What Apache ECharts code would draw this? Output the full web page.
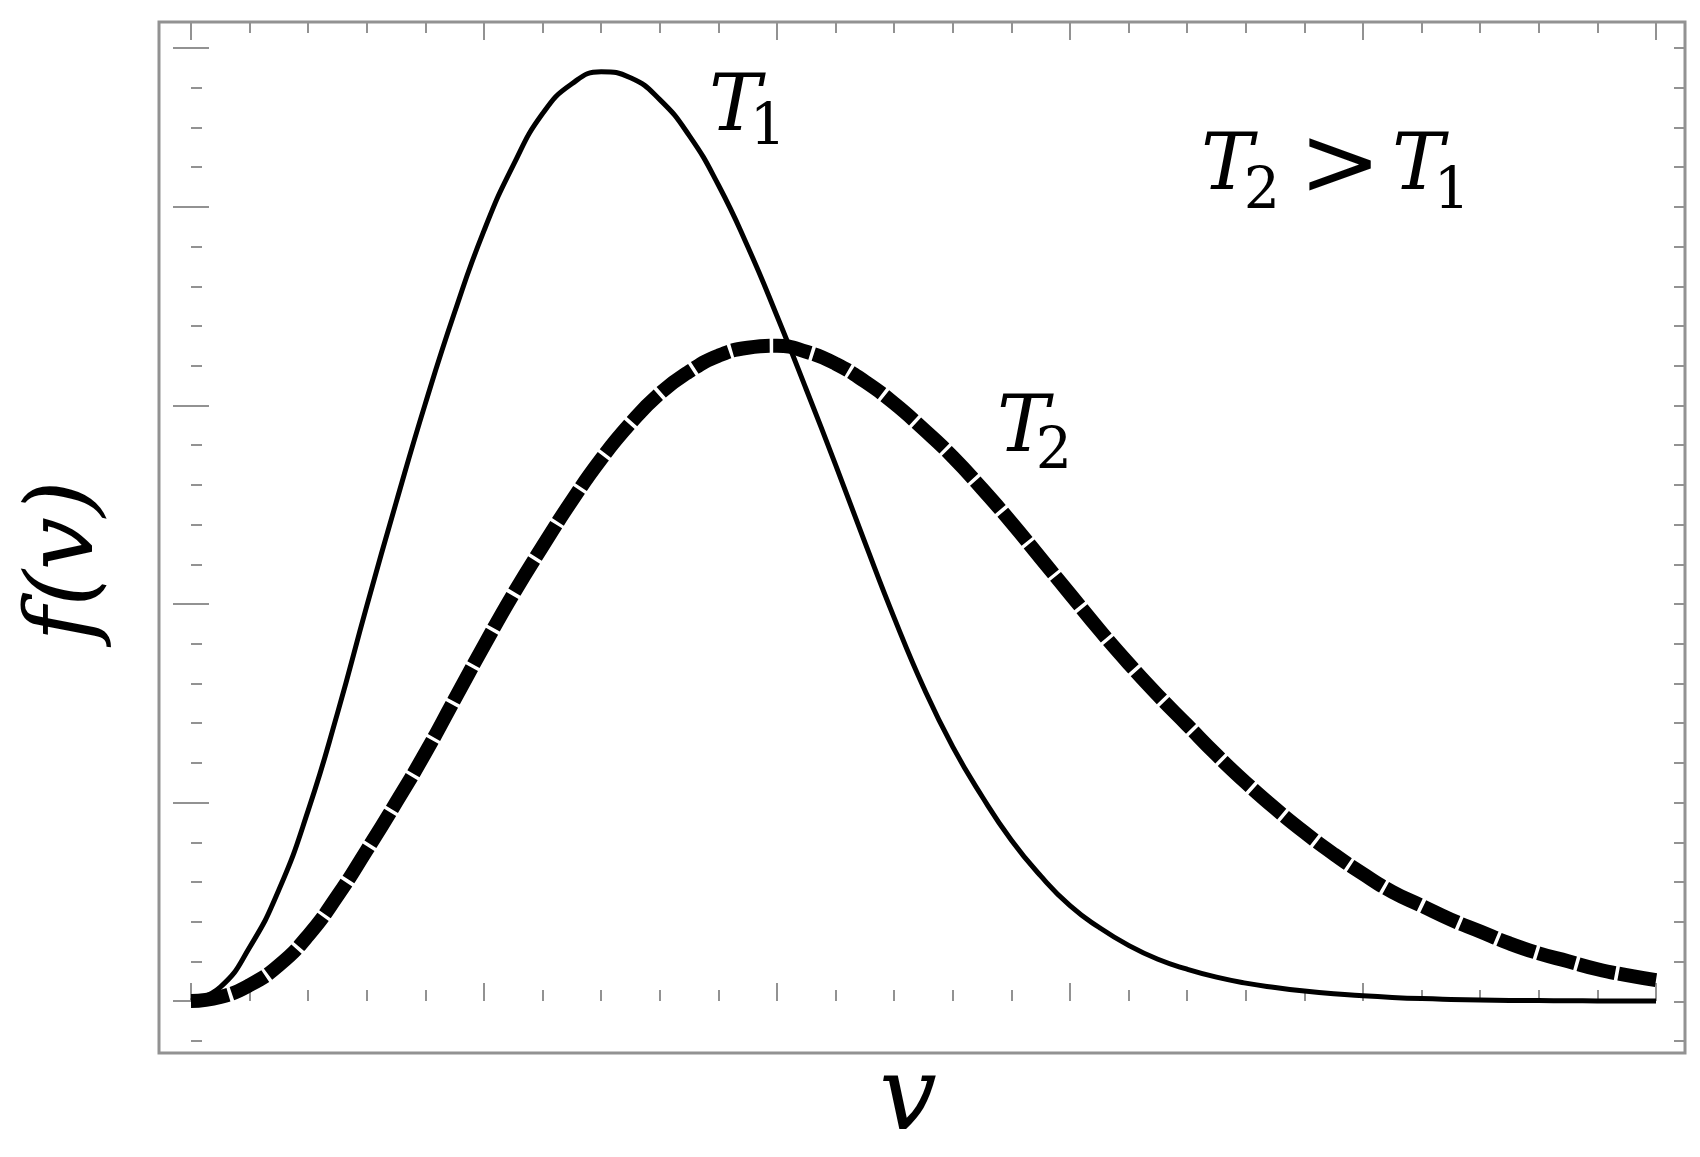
<!DOCTYPE html>
<html><head><meta charset="utf-8">
<script src="https://cdn.jsdelivr.net/npm/echarts@6/dist/echarts.min.js"></script>
<style>html,body{margin:0;padding:0;background:#fff}#c{width:1700px;height:1157px}</style>
</head><body><div id="c"></div>
<script>
// speed v (arbitrary units, major tick = 1)
const speeds = [0.0,0.1,0.2,0.3,0.4,0.5,0.6,0.7,0.8,0.9,1.0,1.1,1.2,1.3,1.4,1.5,1.6,1.7,1.8,1.9,2.0,2.1,2.2,2.3,2.4,2.5,2.6,2.7,2.8,2.9,3.0,3.1,3.2,3.3,3.4,3.5,3.6,3.7,3.8,3.9,4.0,4.1,4.2,4.3,4.4,4.5,4.6,4.7,4.8,4.9,5.0];
// f(v) at T1 (solid)
const fT1 = [0,0.07,0.27,0.56,0.96,1.45,1.99,2.51,3.01,3.47,3.88,4.21,4.47,4.62,4.68,4.65,4.54,4.36,4.11,3.80,3.45,3.08,2.70,2.31,1.93,1.58,1.28,1.03,0.81,0.63,0.48,0.37,0.28,0.21,0.16,0.12,0.09,0.068,0.05,0.036,0.026,0.018,0.012,0.008,0.005,0.003,0.002,0.001,0.0005,0,0];
// f(v) at T2 (dashed)
const fT2 = [0,0.02,0.08,0.18,0.33,0.53,0.76,1.00,1.25,1.52,1.79,2.05,2.29,2.52,2.73,2.91,3.06,3.17,3.25,3.29,3.30,3.27,3.21,3.12,3.01,2.88,2.74,2.58,2.41,2.23,2.05,1.87,1.70,1.54,1.39,1.24,1.10,0.97,0.85,0.74,0.64,0.55,0.48,0.41,0.35,0.29,0.24,0.20,0.16,0.13,0.105];

const pairs = (ys) => speeds.map((x, i) => [x, ys[i]]);
const tickColor = '#929292';
const FONT = '"DejaVu Serif", serif';

function tickAxis(base, len) {
  return Object.assign({
    type: 'value', show: true,
    axisLine: { show: false },
    axisLabel: { show: false },
    splitLine: { show: false },
    axisTick: { show: true, inside: true, length: len, lineStyle: { color: tickColor, width: 2 } }
  }, base);
}

const chart = echarts.init(document.getElementById('c'), null, { renderer: 'canvas' });

function txt(x, y, text, size, italic, rot) {
  return {
    type: 'text', x: x, y: y, rotation: rot || 0, z: 100,
    style: {
      text: text, fontFamily: FONT, fontSize: size,
      fontStyle: italic ? 'italic' : 'normal',
      fill: '#000', align: 'center', verticalAlign: 'middle'
    }
  };
}

chart.setOption({
  animation: false,
  backgroundColor: '#fff',
  grid: [
    { left: 159, top: 22, width: 1526, height: 1031, show: true, borderColor: '#929292', borderWidth: 3, backgroundColor: 'transparent' },
    { left: 191, top: 48, width: 1465, height: 953 },
    { left: 191, top: 48, width: 1465, height: 993 }
  ],
  xAxis: [
    { gridIndex: 0, type: 'value', show: false, min: 0, max: 1 },
    tickAxis({ gridIndex: 1, position: 'bottom', offset: 52, min: 0, max: 5, interval: 1 }, 18),
    tickAxis({ gridIndex: 1, position: 'bottom', offset: 52, min: 0, max: 5, interval: 0.2 }, 11),
    tickAxis({ gridIndex: 1, position: 'top', offset: 26, min: 0, max: 5, interval: 1 }, 18),
    tickAxis({ gridIndex: 1, position: 'top', offset: 26, min: 0, max: 5, interval: 0.2 }, 11),
    { gridIndex: 2, type: 'value', show: false, min: 0, max: 5 }
  ],
  yAxis: [
    { gridIndex: 0, type: 'value', show: false, min: 0, max: 1 },
    tickAxis({ gridIndex: 1, position: 'left', offset: 32, min: 0, max: 4.8, interval: 1 }, 18),
    tickAxis({ gridIndex: 1, position: 'right', offset: 29, min: 0, max: 4.8, interval: 1 }, 18),
    tickAxis({ gridIndex: 2, position: 'left', offset: 32, min: -0.2, max: 4.8, interval: 0.2 }, 11),
    tickAxis({ gridIndex: 2, position: 'right', offset: 29, min: -0.2, max: 4.8, interval: 0.2 }, 11)
  ],
  series: [
    {
      name: 'T2', type: 'line', xAxisIndex: 1, yAxisIndex: 1, data: pairs(fT2),
      smooth: 0.5, showSymbol: false, symbol: 'none', clip: false,
      lineStyle: { color: '#000', width: 14, type: [38, 3.5], cap: 'butt', join: 'round' }
    },
    {
      name: 'T1', type: 'line', xAxisIndex: 1, yAxisIndex: 1, data: pairs(fT1),
      smooth: 0.5, showSymbol: false, symbol: 'none', clip: false,
      lineStyle: { color: '#000', width: 5, type: 'solid', join: 'round' }
    }
  ],
  graphic: [
    txt(735, 110, 'T', 78, true),
    txt(768, 129, '1', 57, false),
    txt(1023, 431, 'T', 78, true),
    txt(1054, 453, '2', 57, false),
    txt(1227, 169, 'T', 78, true),
    txt(1262, 193, '2', 57, false),
    txt(1340, 170, '>', 98, false),
    txt(1418, 169, 'T', 78, true),
    txt(1452, 193, '1', 57, false),
    txt(908, 1102, 'v', 102, true),
    txt(68, 561, 'f(v)', 94, true, Math.PI / 2)
  ]
});
</script></body></html>
